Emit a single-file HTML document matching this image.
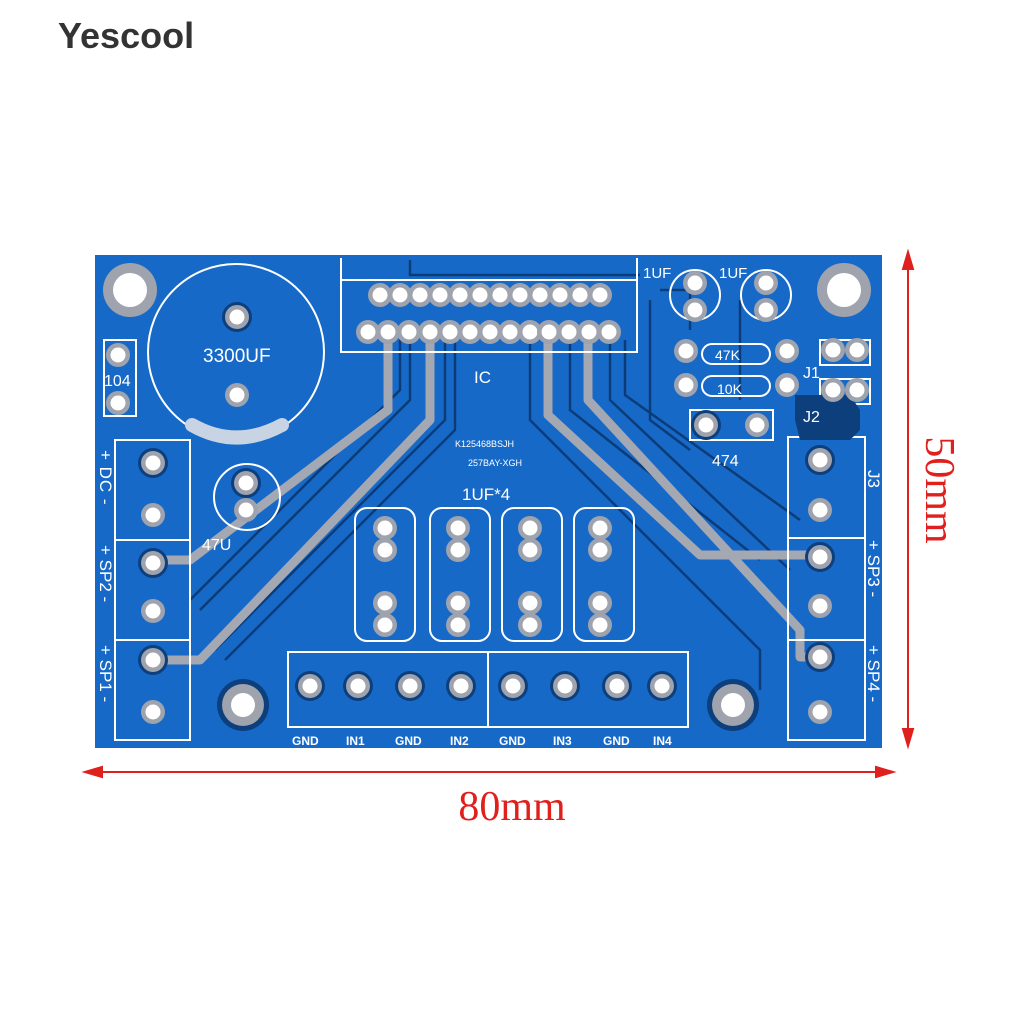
<!DOCTYPE html><html><head><style>body{margin:0;background:#fff}svg{display:block}</style></head><body>
<svg width="1024" height="1024" viewBox="0 0 1024 1024" font-family="Liberation Sans, sans-serif">
<rect width="1024" height="1024" fill="#fff"/>
<text x="58" y="48" font-size="36" fill="#333" font-weight="bold">Yescool</text>
<defs>
<g id="pad"><circle r="12" fill="#9ea3ad"/><circle r="7.5" fill="#fff"/></g>
<g id="pad2"><circle r="15" fill="#0d3f7c"/><circle r="12" fill="#9ea3ad"/><circle r="7.5" fill="#fff"/></g>
</defs>
<rect x="95" y="255" width="787" height="493" fill="#1769c8"/>
<g fill="none" stroke="#0b3c78" stroke-width="2.5">
<path d="M400 340 V390 L190 600"/><path d="M410 340 V400 L200 610"/><path d="M445 340 V420 L215 650"/><path d="M455 340 V430 L225 660"/>
<path d="M530 340 V420 L760 650 V690"/><path d="M570 340 V410 L760 560"/><path d="M610 340 V400 L790 570"/><path d="M625 340 V395 L800 520"/>
<path d="M650 300 V420 L690 450"/><path d="M660 290 H690 V330"/><path d="M740 300 V400"/><path d="M410 260 V275 H640"/>
</g>
<g fill="none" stroke="#a3a8b2" stroke-width="9" stroke-linejoin="round">
<path d="M388 332 V410 L190 560 H153"/><path d="M430 332 V420 L200 660 H153"/>
<path d="M548 332 V415 L700 555 H820"/><path d="M588 332 V400 L800 630 V657 H820"/>
</g>
<g fill="none" stroke="#fff" stroke-width="2">
<circle cx="236" cy="352" r="88"/>
<path d="M341 258 V352 H637 V258 M341 280 H637"/>
<rect x="104" y="340" width="32" height="76"/>
<rect x="115" y="440" width="75" height="300"/><line x1="115" y1="540" x2="190" y2="540"/><line x1="115" y1="640" x2="190" y2="640"/>
<rect x="788" y="437" width="77" height="303"/><line x1="788" y1="538" x2="865" y2="538"/><line x1="788" y1="640" x2="865" y2="640"/>
<circle cx="247" cy="497" r="33"/>
<circle cx="695" cy="295" r="25"/><circle cx="766" cy="295" r="25"/>
<rect x="702" y="344" width="68" height="20" rx="10"/><rect x="702" y="376" width="68" height="20" rx="10"/>
<rect x="690" y="410" width="83" height="30"/>
<rect x="820" y="340" width="50" height="25"/><rect x="820" y="379" width="50" height="25"/>
<rect x="288" y="652" width="200" height="75"/><rect x="488" y="652" width="200" height="75"/>
<rect x="355" y="508" width="60" height="133" rx="12"/><rect x="430" y="508" width="60" height="133" rx="12"/>
<rect x="502" y="508" width="60" height="133" rx="12"/><rect x="574" y="508" width="60" height="133" rx="12"/>
</g>
<path d="M192 425 Q236 450 282 425" stroke="#c8d3e3" stroke-width="14" fill="none" stroke-linecap="round"/>
<path d="M795 395 H850 L860 410 V430 L850 440 H800 L795 420Z" fill="#0d3f7c"/>
<g fill="#9ea3ad"><circle cx="130" cy="290" r="27"/><circle cx="844" cy="290" r="27"/><circle cx="243" cy="705" r="26" fill="#0d3f7c"/><circle cx="733" cy="705" r="26" fill="#0d3f7c"/><circle cx="243" cy="705" r="21"/><circle cx="733" cy="705" r="21"/></g>
<g fill="#fff"><circle cx="130" cy="290" r="17"/><circle cx="844" cy="290" r="17"/><circle cx="243" cy="705" r="12"/><circle cx="733" cy="705" r="12"/></g>
<g>
<use href="#pad" x="380" y="295"/><use href="#pad" x="400" y="295"/><use href="#pad" x="420" y="295"/><use href="#pad" x="440" y="295"/><use href="#pad" x="460" y="295"/><use href="#pad" x="480" y="295"/><use href="#pad" x="500" y="295"/><use href="#pad" x="520" y="295"/><use href="#pad" x="540" y="295"/><use href="#pad" x="560" y="295"/><use href="#pad" x="580" y="295"/><use href="#pad" x="600" y="295"/>
<use href="#pad" x="368" y="332"/><use href="#pad" x="388" y="332"/><use href="#pad" x="409" y="332"/><use href="#pad" x="430" y="332"/><use href="#pad" x="450" y="332"/><use href="#pad" x="470" y="332"/><use href="#pad" x="490" y="332"/><use href="#pad" x="510" y="332"/><use href="#pad" x="530" y="332"/><use href="#pad" x="549" y="332"/><use href="#pad" x="569" y="332"/><use href="#pad" x="589" y="332"/><use href="#pad" x="609" y="332"/>
<use href="#pad2" x="237" y="317"/><use href="#pad" x="237" y="395"/>
<use href="#pad" x="118" y="355"/><use href="#pad" x="118" y="403"/>
<use href="#pad2" x="153" y="463"/><use href="#pad" x="153" y="515"/><use href="#pad2" x="153" y="563"/><use href="#pad" x="153" y="611"/><use href="#pad2" x="153" y="660"/><use href="#pad" x="153" y="712"/>
<use href="#pad2" x="820" y="460"/><use href="#pad" x="820" y="510"/><use href="#pad2" x="820" y="557"/><use href="#pad" x="820" y="606"/><use href="#pad2" x="820" y="657"/><use href="#pad" x="820" y="712"/>
<use href="#pad2" x="246" y="483"/><use href="#pad" x="246" y="510"/>
<use href="#pad" x="695" y="283"/><use href="#pad" x="695" y="310"/><use href="#pad" x="766" y="283"/><use href="#pad" x="766" y="310"/>
<use href="#pad" x="686" y="351"/><use href="#pad" x="787" y="351"/><use href="#pad" x="686" y="385"/><use href="#pad" x="787" y="385"/>
<use href="#pad2" x="706" y="425"/><use href="#pad" x="757" y="425"/>
<use href="#pad" x="833" y="350"/><use href="#pad" x="857" y="350"/><use href="#pad" x="833" y="390"/><use href="#pad" x="857" y="390"/>
<use href="#pad" x="385" y="528"/><use href="#pad" x="385" y="550"/><use href="#pad" x="385" y="603"/><use href="#pad" x="385" y="625"/>
<use href="#pad" x="458" y="528"/><use href="#pad" x="458" y="550"/><use href="#pad" x="458" y="603"/><use href="#pad" x="458" y="625"/>
<use href="#pad" x="530" y="528"/><use href="#pad" x="530" y="550"/><use href="#pad" x="530" y="603"/><use href="#pad" x="530" y="625"/>
<use href="#pad" x="600" y="528"/><use href="#pad" x="600" y="550"/><use href="#pad" x="600" y="603"/><use href="#pad" x="600" y="625"/>
<use href="#pad2" x="310" y="686"/><use href="#pad2" x="358" y="686"/><use href="#pad2" x="410" y="686"/><use href="#pad2" x="461" y="686"/><use href="#pad2" x="513" y="686"/><use href="#pad2" x="565" y="686"/><use href="#pad2" x="617" y="686"/><use href="#pad2" x="662" y="686"/>
</g>
<g fill="#fff" font-size="17">
<text x="203" y="362" font-size="19">3300UF</text>
<text x="104" y="386" font-size="16">104</text>
<text x="474" y="383" font-size="17">IC</text>
<text x="455" y="447" font-size="9">K125468BSJH</text><text x="468" y="466" font-size="9">257BAY-XGH</text>
<text x="462" y="500" font-size="17">1UF*4</text>
<text x="202" y="550" font-size="16">47U</text>
<text x="643" y="278" font-size="15">1UF</text><text x="719" y="278" font-size="15">1UF</text>
<text x="715" y="360" font-size="14">47K</text><text x="717" y="394" font-size="14">10K</text>
<text x="803" y="378" font-size="16">J1</text><text x="803" y="422" font-size="16">J2</text>
<text x="712" y="466" font-size="16">474</text>
<g font-size="12" font-weight="bold"><text x="292" y="745">GND</text><text x="346" y="745">IN1</text><text x="395" y="745">GND</text><text x="450" y="745">IN2</text><text x="499" y="745">GND</text><text x="553" y="745">IN3</text><text x="603" y="745">GND</text><text x="653" y="745">IN4</text></g>
<g transform="rotate(90 100 450)" font-size="17"><text x="100" y="450" letter-spacing="1">+ DC -</text></g>
<g transform="rotate(90 100 545)" font-size="17"><text x="100" y="545">+ SP2 -</text></g>
<g transform="rotate(90 100 645)" font-size="17"><text x="100" y="645">+ SP1 -</text></g>
<g transform="rotate(90 868 470)" font-size="17"><text x="868" y="470">J3</text></g>
<g transform="rotate(90 868 540)" font-size="17"><text x="868" y="540">+ SP3 -</text></g>
<g transform="rotate(90 868 645)" font-size="17"><text x="868" y="645">+ SP4 -</text></g>
</g>
<g stroke="#e0201c" stroke-width="2" fill="#e0201c">
<line x1="95" y1="772" x2="885" y2="772"/><path d="M85 772 L102 767 L102 777Z"/><path d="M893 772 L876 767 L876 777Z"/>
<line x1="908" y1="262" x2="908" y2="738"/><path d="M908 252 L903 269 L913 269Z"/><path d="M908 746 L903 729 L913 729Z"/>
</g>
<text x="512" y="820" font-size="42" fill="#e0201c" text-anchor="middle" font-family="Liberation Serif, serif">80mm</text>
<text transform="translate(926 490) rotate(90)" font-size="42" fill="#e0201c" text-anchor="middle" font-family="Liberation Serif, serif">50mm</text>
</svg></body></html>
